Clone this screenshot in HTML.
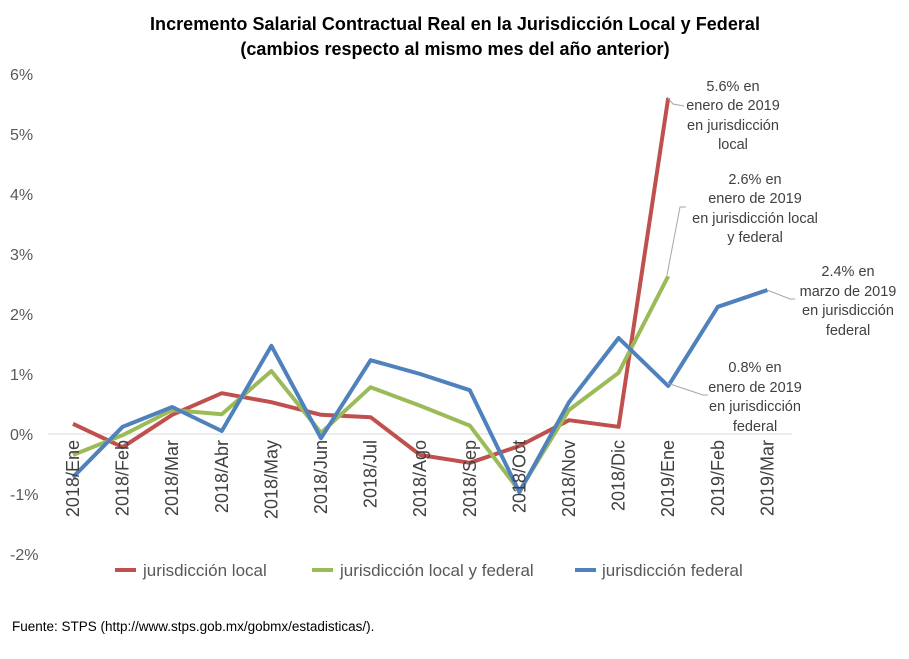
<!DOCTYPE html>
<html><head><meta charset="utf-8"><style>
body{margin:0;background:#fff;}
svg{display:block;font-family:"Liberation Sans",sans-serif;}
</style></head><body>
<svg id="chart" width="909" height="659" xmlns="http://www.w3.org/2000/svg">
<text x="455" y="30" text-anchor="middle" font-size="18" font-weight="bold" textLength="610">Incremento Salarial Contractual Real en la Jurisdicción Local y Federal</text>
<text x="455" y="55" text-anchor="middle" font-size="18" font-weight="bold">(cambios respecto al mismo mes del año anterior)</text>
<g id="yaxis"></g>
<line x1="48" y1="434" x2="792" y2="434" stroke="#d9d9d9" stroke-width="1"/>
<g id="series"></g>
<g id="xaxis"></g>
<g font-size="14.5" fill="#404040" text-anchor="middle">
<polyline points="667,97 673,104 684,106" fill="none" stroke="#a6a6a6"/>
<text x="733" y="91">5.6% en</text><text x="733" y="110">enero de 2019</text><text x="733" y="130">en jurisdicción</text><text x="733" y="149">local</text>
<polyline points="667,275 680,207 686,207" fill="none" stroke="#a6a6a6"/>
<text x="755" y="184">2.6% en</text><text x="755" y="203">enero de 2019</text><text x="755" y="223">en jurisdicción local</text><text x="755" y="242">y federal</text>
<polyline points="767,290 790,299 795,299" fill="none" stroke="#a6a6a6"/>
<text x="848" y="276">2.4% en</text><text x="848" y="296">marzo de 2019</text><text x="848" y="315">en jurisdicción</text><text x="848" y="335">federal</text>
<polyline points="667,383 703,395 708,395" fill="none" stroke="#a6a6a6"/>
<text x="755" y="372">0.8% en</text><text x="755" y="392">enero de 2019</text><text x="755" y="411">en jurisdicción</text><text x="755" y="431">federal</text>
</g>
<g font-size="17" fill="#595959">
<line x1="115" y1="570" x2="136" y2="570" stroke="#c0504d" stroke-width="4"/>
<text x="143" y="576">jurisdicción local</text>
<line x1="312" y1="570" x2="333" y2="570" stroke="#9bbb59" stroke-width="4"/>
<text x="340" y="576">jurisdicción local y federal</text>
<line x1="575" y1="570" x2="596" y2="570" stroke="#4f81bd" stroke-width="4"/>
<text x="602" y="576">jurisdicción federal</text>
</g>
<text x="12" y="631" font-size="13.5" fill="#000">Fuente: STPS (http://www.stps.gob.mx/gobmx/estadisticas/).</text>
</svg>
<script>
const categories=["2018/Ene","2018/Feb","2018/Mar","2018/Abr","2018/May","2018/Jun","2018/Jul","2018/Ago","2018/Sep","2018/Oct","2018/Nov","2018/Dic","2019/Ene","2019/Feb","2019/Mar"];
const localVals=[0.17,-0.22,0.32,0.68,0.53,0.32,0.28,-0.35,-0.48,-0.2,0.23,0.12,5.6];
const mixedVals=[-0.35,-0.02,0.4,0.33,1.05,0.02,0.78,0.47,0.14,-0.95,0.4,1.02,2.63];
const federalVals=[-0.72,0.12,0.45,0.05,1.47,-0.07,1.23,1.0,0.73,-0.97,0.53,1.6,0.8,2.12,2.4];
const yTicks=[-2,-1,0,1,2,3,4,5,6];
const NS="http://www.w3.org/2000/svg";
const xs=i=>73+i*49.6;
const ys=v=>434-60*v;
function mk(t,a,p){const e=document.createElementNS(NS,t);for(const k in a)e.setAttribute(k,a[k]);p.appendChild(e);return e;}
const ya=document.getElementById('yaxis');
yTicks.forEach(t=>{const e=mk('text',{x:10,y:ys(t)+6,'font-size':16,fill:'#595959'},ya);e.textContent=t+'%';

});
const xa=document.getElementById('xaxis');
categories.forEach((c,i)=>{const x=xs(i)+6;const e=mk('text',{x:x,y:440,'font-size':18,fill:'#404040','text-anchor':'end',transform:`rotate(-90 ${x} 440)`},xa);e.textContent=c;

});
const sg=document.getElementById('series');
[[localVals,'#c0504d','local-series-line'],[mixedVals,'#9bbb59','local-federal-series-line'],[federalVals,'#4f81bd','federal-series-line']].forEach(([vals,col,name])=>{
const p=mk('polyline',{points:vals.map((v,i)=>xs(i)+','+ys(v)).join(' '),fill:'none',stroke:col,'stroke-width':4,'stroke-linejoin':'round'},sg);

});
</script>
</body></html>
